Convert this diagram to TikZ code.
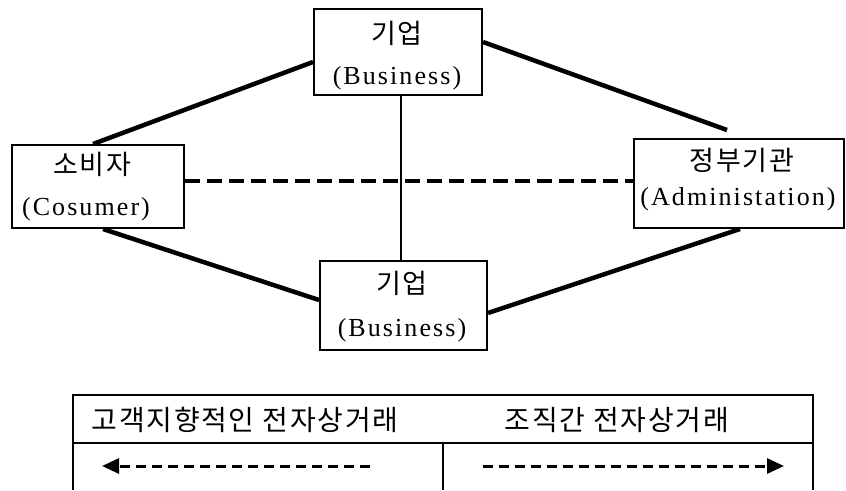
\documentclass[tikz,border=0pt]{standalone}
\usepackage{fontspec}
\usetikzlibrary{arrows.meta,calc}
\newfontfamily\kr[LetterSpace=6]{Noto Sans CJK KR}
\newfontfamily\en[LetterSpace=8]{Liberation Serif}
\tikzset{
  box/.style={draw, line width=2pt, inner sep=0pt},
  kor/.style={inner sep=0pt, font=\kr\fontsize{27}{32}\selectfont},
  eng/.style={inner sep=0pt, font=\en\fontsize{26}{30}\selectfont},
  legtxt/.style={inner sep=0pt, font=\kr\fontsize{28}{32}\selectfont},
  thick link/.style={line width=4.5pt},
  thin link/.style={line width=1.5pt},
  dash link/.style={line width=4.5pt, dash pattern=on 15pt off 7pt},
  legline/.style={line width=2pt},
  legarrow/.style={line width=3pt, dash pattern=on 10pt off 6pt, -{Triangle[length=17pt,width=15pt]}}
}
\begin{document}
\begin{tikzpicture}[x=1pt,y=-1pt]
\useasboundingbox (0,0) rectangle (846,490);
% boxes
\node[box, minimum width=168pt, minimum height=86pt] (top) at (398,52) {};
\node[box, minimum width=172pt, minimum height=83pt] (cons) at (98,186.5) {};
\node[box, minimum width=210pt, minimum height=89pt] (gov) at (739,183.5) {};
\node[box, minimum width=167pt, minimum height=89pt] (bot) at (403.5,305.5) {};
% texts
\node[kor] (topK) at (397,33) {기업};
\node[eng] (topE) at (397,78) {(Business)};
\node[kor] (consK) at (92,164) {소비자};
\node[eng] (consE) at (86,209) {(Cosumer)};
\node[kor] (govK) at (742,160) {정부기관};
\node[eng] (govE) at (738,199) {(Administation)};
\node[kor] (botK) at (402,283) {기업};
\node[eng] (botE) at (402,330) {(Business)};
% connectors
\coordinate (gfree) at (727,130);
\draw[thick link] ([yshift=-10pt]top.west) -- ([xshift=-5pt]cons.north);
\draw[thick link] ([yshift=10pt]top.east) -- (gfree);
\draw[thick link] ([xshift=5pt]cons.south) -- ([yshift=5.5pt]bot.west);
\draw[thick link] ([yshift=-7.5pt]bot.east) -- ([xshift=1pt]gov.south);
\draw[thin link] ([xshift=3pt]top.south) -- ([xshift=-2.5pt]bot.north);
\draw[dash link] ([yshift=5.5pt]cons.east) -- ([yshift=2.5pt]gov.west);
% legend
\draw[legline] (73,490) -- (73,395) -- (813,395) -- (813,490);
\draw[legline] (73,443) -- (813,443);
\draw[legline] (443,443) -- (443,490);
\node[legtxt] (leg1) at (245,420) {고객지향적인 전자상거래};
\node[legtxt] (leg2) at (617,420) {조직간 전자상거래};
\coordinate (la1) at (370,466);
\coordinate (la2) at (102,466);
\coordinate (ra1) at (483,466);
\coordinate (ra2) at (784,466);
\draw[legarrow] (la1) -- (la2);
\draw[legarrow] (ra1) -- (ra2);
\end{tikzpicture}
\end{document}
